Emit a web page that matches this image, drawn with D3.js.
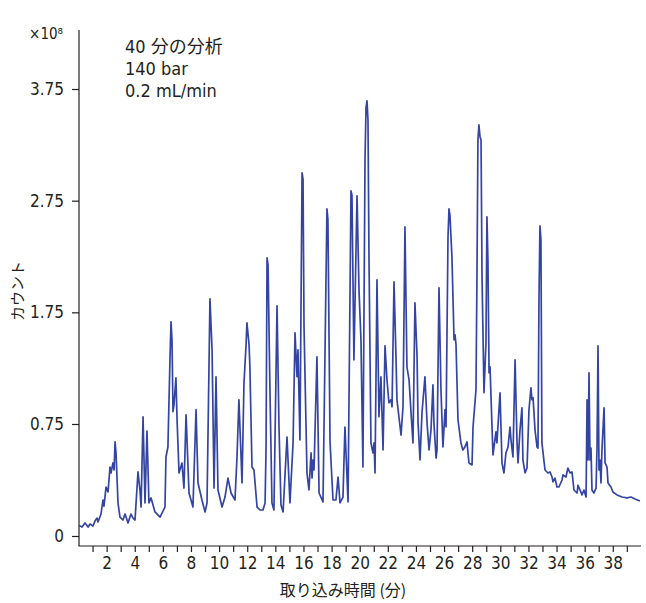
<!DOCTYPE html>
<head>
  <meta charset="utf-8">
  <style>
    body { margin: 0; background: #fff; }
    svg text { font-family: "Liberation Sans Narrow", "DejaVu Sans Condensed", "Noto Sans CJK JP", sans-serif; fill: #231f20; }
    svg .tick line, svg .axisline { stroke: #231f20; stroke-width: 1.2px; }
    svg .trace { fill: none; stroke: #3444a2; stroke-width: 1.7px; stroke-linejoin: round; }
  </style>
</head>
<body>
<script src="https://cdn.jsdelivr.net/npm/d3@7"></script>
<script>
  // retention time (min) and counts (x10^8)
  var times = [0.04,0.25,0.46,0.68,0.82,1.03,1.17,1.32,1.39,1.60,1.74,1.81,1.96,2.10,2.24,2.31,2.45,2.53,2.60,2.67,
    2.81,2.95,3.16,3.31,3.52,3.73,3.88,4.02,4.23,4.37,4.45,4.59,4.73,4.87,5.01,5.16,5.44,5.80,6.15,6.22,
    6.36,6.51,6.58,6.65,6.72,6.79,6.93,7.01,7.15,7.36,7.50,7.65,7.86,8.14,8.36,8.50,8.78,9.00,9.14,9.35,
    9.50,9.64,9.78,9.92,10.21,10.42,10.63,10.85,11.13,11.27,11.41,11.63,11.77,11.91,11.98,12.13,12.19,12.34,12.48,12.70,
    12.91,13.12,13.27,13.34,13.41,13.48,13.62,13.76,13.90,14.12,14.26,14.40,14.55,14.83,15.04,15.26,15.40,15.54,15.61,15.75,
    15.90,15.97,16.04,16.25,16.39,16.54,16.61,16.68,16.75,16.96,17.11,17.39,17.67,17.74,17.89,18.10,18.31,18.46,18.60,18.81,
    18.95,19.17,19.38,19.45,19.59,19.81,19.95,20.09,20.23,20.38,20.45,20.52,20.59,20.66,20.80,20.95,21.02,21.09,21.23,21.37,
    21.51,21.66,21.80,21.94,22.08,22.23,22.30,22.44,22.58,22.65,22.79,22.94,23.08,23.22,23.36,23.51,23.65,23.79,23.93,24.08,
    24.15,24.29,24.43,24.64,24.79,24.93,25.07,25.21,25.28,25.43,25.50,25.64,25.78,25.92,26.07,26.14,26.28,26.35,26.42,26.56,
    26.71,26.78,26.85,26.99,27.20,27.34,27.48,27.63,27.77,27.99,28.06,28.27,28.34,28.41,28.48,28.56,28.63,28.70,28.84,28.98,
    29.05,29.12,29.20,29.27,29.41,29.48,29.69,29.76,29.98,30.12,30.26,30.40,30.55,30.69,30.76,30.90,31.05,31.19,31.26,31.40,
    31.54,31.61,31.76,31.90,32.04,32.18,32.25,32.33,32.47,32.61,32.68,32.75,32.82,32.89,32.96,33.18,33.39,33.53,33.68,33.75,
    33.89,34.03,34.17,34.39,34.46,34.67,34.81,34.96,35.10,35.24,35.46,35.53,35.67,35.81,35.95,36.10,36.17,36.24,36.31,36.38,
    36.45,36.52,36.66,36.81,36.88,36.95,37.02,37.09,37.16,37.23,37.38,37.45,37.59,37.66,37.87,38.01,38.30,38.66,39.01,39.30,
    39.58,39.93];
  var counts = [0.07,0.06,0.087,0.06,0.08,0.067,0.10,0.12,0.094,0.147,0.24,0.20,0.328,0.295,0.462,0.422,0.489,0.442,0.63,0.556,
    0.221,0.127,0.107,0.147,0.087,0.147,0.12,0.107,0.429,0.308,0.194,0.815,0.221,0.703,0.221,0.255,0.161,0.127,0.194,0.529,
    0.596,1.352,1.665,1.50,0.86,0.92,1.164,0.788,0.422,0.489,0.321,0.833,0.288,0.194,0.878,0.355,0.241,0.161,0.221,1.871,
    1.41,0.321,1.173,0.308,0.194,0.261,0.388,0.288,0.241,0.522,0.967,0.355,1.119,1.441,1.656,1.46,1.262,0.462,0.442,0.194,
    0.174,0.174,0.221,0.596,2.238,2.18,1.03,0.221,0.174,1.808,0.73,0.208,0.161,0.663,0.221,0.623,1.567,1.173,1.414,0.643,
    2.998,2.94,1.62,0.422,0.308,0.556,0.388,0.509,0.442,1.352,0.288,0.228,2.676,2.58,0.63,0.241,0.241,0.395,0.221,0.261,
    0.73,0.228,2.837,2.80,1.325,2.793,1.951,1.504,0.462,3.142,3.58,3.643,3.47,2.247,0.623,0.556,0.623,0.422,2.041,0.815,
    1.173,0.576,1.45,1.146,0.94,0.967,0.904,2.023,1.352,0.967,0.815,0.676,0.904,2.515,1.262,1.146,0.851,0.623,1.835,1.352,
    0.761,0.509,0.851,1.173,0.761,0.576,0.71,1.101,0.761,0.522,0.576,1.969,1.056,0.596,0.878,0.73,2.426,2.676,2.62,2.247,
    1.504,1.549,1.46,0.788,0.623,0.576,0.596,0.63,0.489,0.476,0.73,1.056,2.068,3.294,3.428,3.32,3.294,2.068,1.03,1.477,
    2.605,2.22,1.209,1.262,0.73,0.543,0.697,0.623,1.03,0.489,0.422,0.556,0.596,0.73,0.643,0.529,1.325,0.623,0.489,0.71,
    0.895,0.509,0.422,0.455,0.878,1.074,0.967,0.985,0.71,0.596,0.589,1.862,2.524,2.40,0.623,0.442,0.422,0.429,0.395,0.362,
    0.388,0.328,0.328,0.375,0.409,0.395,0.455,0.422,0.429,0.308,0.288,0.34,0.308,0.275,0.308,0.261,0.967,0.509,1.209,0.509,
    0.589,0.308,0.288,0.321,0.596,1.45,0.442,0.509,0.355,0.576,0.895,0.489,0.462,0.355,0.328,0.295,0.275,0.261,0.255,0.261,
    0.248,0.234];

  var yTicks = [0, 0.75, 1.75, 2.75, 3.75];
  var yTickLabels = ["0", "0.75", "1.75", "2.75", "3.75"];
  var xTicks = d3.range(1, 40);
  var notes = ["40 分の分析", "140 bar", "0.2 mL/min"];

  var width = 646, height = 603;

  var svg = d3.select("body").append("svg")
      .attr("width", width)
      .attr("height", height);

  var xScale = d3.scaleLinear().domain([0, 40]).range([78.5, 640.9]);
  // the printed axis puts "0" one full step below 0.75, so the scale is piecewise
  var yScale = d3.scaleLinear().domain([0, 0.75, 3.75]).range([536, 424, 89]);

  // x axis
  var xAxis = d3.axisBottom(xScale)
      .tickValues(xTicks)
      .tickSize(6)
      .tickSizeOuter(0)
      .tickFormat(function (d) { return d % 2 === 0 ? d : ""; });

  var xa = svg.append("g")
      .attr("transform", "translate(0,546)")
      .call(xAxis);
  xa.select(".domain").remove();
  xa.selectAll(".tick text")
      .attr("y", 11)
      .attr("dy", "0.71em")
      .style("font-size", "17px");

  svg.append("line")
      .classed("axisline", true)
      .attr("x1", 78.5).attr("x2", 641)
      .attr("y1", 546).attr("y2", 546);

  // y axis
  var yAxis = d3.axisLeft(yScale)
      .tickValues(yTicks)
      .tickSize(7)
      .tickSizeOuter(0)
      .tickFormat(function (d, i) { return yTickLabels[i]; });

  var ya = svg.append("g")
      .attr("transform", "translate(79,0)")
      .call(yAxis);
  ya.select(".domain").remove();
  ya.selectAll(".tick text")
      .attr("x", -15)
      .style("font-size", "17px");

  svg.append("line")
      .classed("axisline", true)
      .attr("x1", 79).attr("x2", 79)
      .attr("y1", 30).attr("y2", 546);

  svg.append("text")
      .attr("x", 63)
      .attr("y", 39)
      .style("text-anchor", "end")
      .style("font-size", "15px")
      .text("×10⁸");

  // axis titles
  svg.append("text")
      .attr("transform", "translate(23,291) rotate(-90)")
      .style("text-anchor", "middle")
      .style("font-family", "'Noto Sans CJK JP', sans-serif")
      .style("font-size", "15px")
      .text("カウント");

  svg.append("text")
      .attr("x", 343)
      .attr("y", 596)
      .style("text-anchor", "middle")
      .style("font-family", "'Liberation Sans Narrow', 'Noto Sans CJK JP', sans-serif")
      .style("font-size", "16px")
      .text("取り込み時間 (分)");

  // method notes
  svg.selectAll("text.note")
      .data(notes)
      .enter().append("text")
      .classed("note", true)
      .attr("x", 125)
      .attr("y", function (d, i) { return 53 + i * 22; })
      .style("font-size", "18px")
      .text(function (d) { return d; });

  // chromatogram trace
  var line = d3.line()
      .x(function (d, i) { return xScale(times[i]); })
      .y(function (d) { return yScale(d); });

  svg.append("path")
      .classed("trace", true)
      .attr("d", line(counts));
</script>
</body>
</html>
